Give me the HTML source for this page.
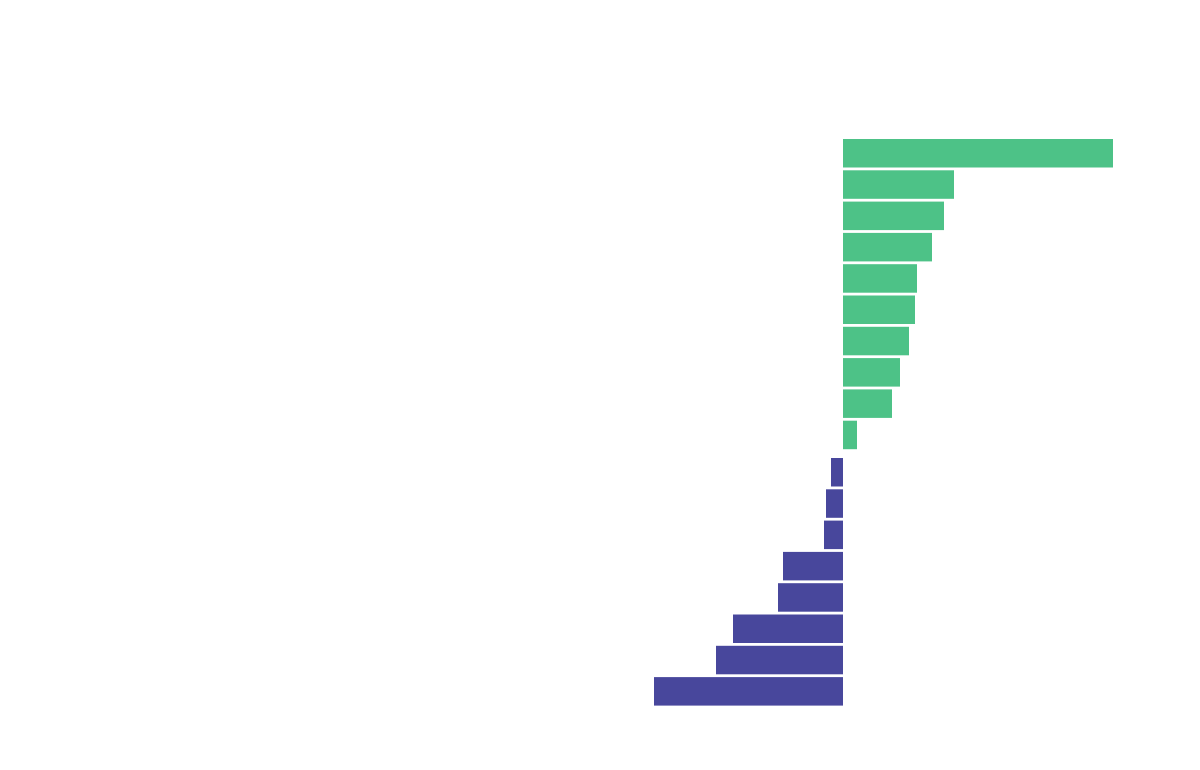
<!DOCTYPE html>
<html>
<head>
<meta charset="utf-8">
<style>
  html, body { margin: 0; padding: 0; background: #ffffff; }
  body { width: 1200px; height: 770px; overflow: hidden; font-family: "Liberation Sans", sans-serif; }
  svg { display: block; }
</style>
</head>
<body>
<svg id="chart" width="1200" height="770" viewBox="0 0 1200 770" xmlns="http://www.w3.org/2000/svg">
  <rect x="0" y="0" width="1200" height="770" fill="#ffffff"/>
  <g id="bars"></g>
</svg>
<script>
const categories = ["c1","c2","c3","c4","c5","c6","c7","c8","c9","c10","c11","c12","c13","c14","c15","c16","c17","c18"];
const values = [270, 111, 101, 89, 74, 72, 66, 57, 49, 14, -12, -17, -19, -60, -65, -110, -127, -189];

const zeroX = 843;
const unit = 1;
const top0 = 139;
const step = 31.3;
const barH = 28.5;
const negGap = 6;

function xScale(v) { return zeroX + v * unit; }
function yScale(i) { return top0 + i * step + (values[i] < 0 ? negGap : 0); }

const g = document.getElementById('bars');
const NS = 'http://www.w3.org/2000/svg';
categories.forEach((c, i) => {
  const v = values[i];
  const r = document.createElementNS(NS, 'rect');
  const x0 = Math.min(xScale(0), xScale(v));
  const w = Math.abs(xScale(v) - xScale(0));
  r.setAttribute('x', x0);
  r.setAttribute('y', yScale(i));
  r.setAttribute('width', w);
  r.setAttribute('height', barH);
  r.setAttribute('fill', v >= 0 ? '#4dc287' : '#48479c');
  
  
  g.appendChild(r);
});
</script>
</body>
</html>
